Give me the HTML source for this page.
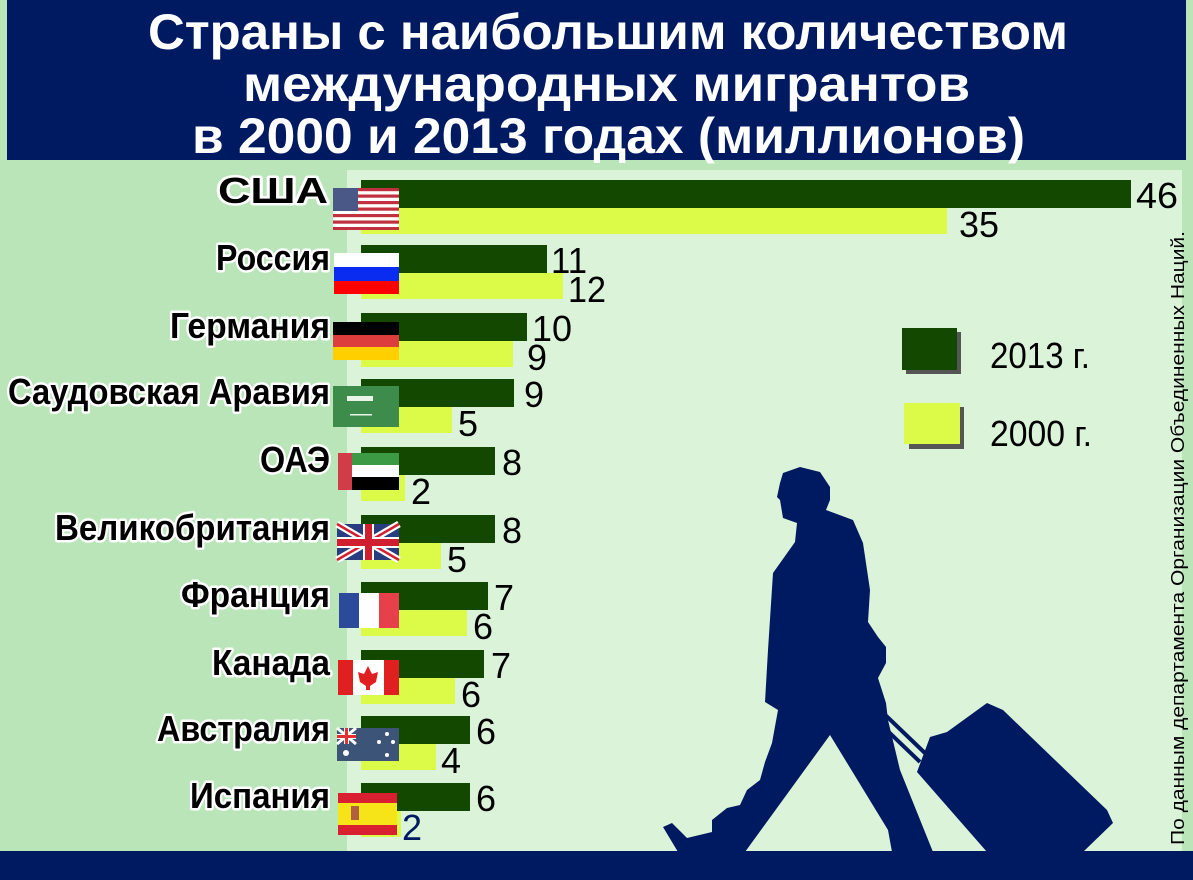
<!DOCTYPE html>
<html><head><meta charset="utf-8"><style>
html,body{margin:0;padding:0;background:#b9e5b9;}
svg{display:block;}
.lab{font-family:"Liberation Sans",sans-serif;font-weight:bold;font-size:36px;fill:#000;stroke:#fff;stroke-width:5px;paint-order:stroke;stroke-linejoin:round;}
.val{font-family:"Liberation Sans",sans-serif;font-size:36px;fill:#000;}
.ttl{font-family:"Liberation Sans",sans-serif;font-weight:bold;font-size:50px;fill:#fff;}
</style></head><body>
<svg width="1193" height="880" viewBox="0 0 1193 880" xmlns="http://www.w3.org/2000/svg">
<rect x="0" y="0" width="1193" height="880" fill="#b9e5b9"/>
<rect x="7" y="0" width="1179" height="160" fill="#001a62"/>
<rect x="347" y="170" width="835" height="681" fill="#dbf4d9"/>
<rect x="0" y="851" width="1193" height="29" fill="#001a62"/>

<text class="ttl" x="148" y="49" textLength="920" lengthAdjust="spacingAndGlyphs">Страны с наибольшим количеством</text>
<text class="ttl" x="243" y="101" textLength="727" lengthAdjust="spacingAndGlyphs">международных  мигрантов</text>
<text class="ttl" x="192" y="153" textLength="833" lengthAdjust="spacingAndGlyphs">в 2000 и 2013 годах (миллионов)</text>

<g fill="#001a62">
<path d="M783,473 L800,467 L820,472 L830,487 L830,500 L826,510 L853,520 L863,543 L870,590 L868,622 L878,637 L886,647 L886,663 L878,678 L886,703 L888,720 L900,770 L933,852 L892,852 L888,830 L830,735 L745,852 L678,852 L663,827 L672,823 L687,838 L712,832 L712,820 L727,808 L740,805 L747,790 L760,780 L765,762 L772,743 L778,710 L765,702 L768,650 L773,573 L795,542 L797,523 L783,518 L780,500 L777,497 L780,483 Z"/>
<path d="M987,703 L1003,710 L1107,810 L1113,823 L1083,852 L987,852 L917,772 L930,737 L947,732 Z"/>
<line x1="878" y1="708" x2="927" y2="755" stroke="#001a62" stroke-width="4"/>
<line x1="872" y1="716" x2="920" y2="762" stroke="#001a62" stroke-width="4"/>
</g>

<g>
<rect x="361" y="180" width="770" height="28" fill="#124800"/><rect x="361" y="208" width="586" height="26" fill="#dcfa48"/>
<rect x="361" y="245" width="186" height="28" fill="#124800"/><rect x="361" y="273" width="202" height="26" fill="#dcfa48"/>
<rect x="361" y="313" width="166" height="28" fill="#124800"/><rect x="361" y="341" width="152" height="26" fill="#dcfa48"/>
<rect x="361" y="379" width="153" height="28" fill="#124800"/><rect x="361" y="407" width="91" height="26" fill="#dcfa48"/>
<rect x="361" y="447" width="134" height="28" fill="#124800"/><rect x="361" y="475" width="44" height="26" fill="#dcfa48"/>
<rect x="361" y="515" width="134" height="28" fill="#124800"/><rect x="361" y="543" width="80" height="26" fill="#dcfa48"/>
<rect x="361" y="582" width="127" height="28" fill="#124800"/><rect x="361" y="610" width="106" height="26" fill="#dcfa48"/>
<rect x="361" y="650" width="123" height="28" fill="#124800"/><rect x="361" y="678" width="94" height="26" fill="#dcfa48"/>
<rect x="361" y="716" width="109" height="28" fill="#124800"/><rect x="361" y="744" width="75" height="26" fill="#dcfa48"/>
<rect x="361" y="783" width="109" height="28" fill="#124800"/><rect x="361" y="811" width="40" height="26" fill="#dcfa48"/>
</g>

<g>
<text class="val" x="1136" y="208" textLength="42" lengthAdjust="spacingAndGlyphs">46</text><text class="val" x="959" y="237" textLength="40" lengthAdjust="spacingAndGlyphs">35</text>
<text class="val" x="551" y="273" textLength="36" lengthAdjust="spacingAndGlyphs">11</text><text class="val" x="568" y="302" textLength="38" lengthAdjust="spacingAndGlyphs">12</text>
<text class="val" x="532" y="341" textLength="40" lengthAdjust="spacingAndGlyphs">10</text><text class="val" x="527" y="370">9</text>
<text class="val" x="524" y="407">9</text><text class="val" x="458" y="436">5</text>
<text class="val" x="502" y="475">8</text><text class="val" x="411" y="504">2</text>
<text class="val" x="502" y="543">8</text><text class="val" x="447" y="572">5</text>
<text class="val" x="494" y="610">7</text><text class="val" x="473" y="639">6</text>
<text class="val" x="491" y="678">7</text><text class="val" x="461" y="707">6</text>
<text class="val" x="476" y="744">6</text><text class="val" x="441" y="773">4</text>
<text class="val" x="476" y="811">6</text><text class="val" x="402" y="840" style="fill:#001a62">2</text>
</g>

<text class="lab" x="218" y="203" textLength="110" lengthAdjust="spacingAndGlyphs">США</text>
<text class="lab" x="216" y="270" textLength="114" lengthAdjust="spacingAndGlyphs">Россия</text>
<text class="lab" x="170" y="338" textLength="160" lengthAdjust="spacingAndGlyphs">Германия</text>
<text class="lab" x="8" y="404" textLength="322" lengthAdjust="spacingAndGlyphs">Саудовская Аравия</text>
<text class="lab" x="260" y="472" textLength="70" lengthAdjust="spacingAndGlyphs">ОАЭ</text>
<text class="lab" x="55" y="540" textLength="275" lengthAdjust="spacingAndGlyphs">Великобритания</text>
<text class="lab" x="181" y="607" textLength="149" lengthAdjust="spacingAndGlyphs">Франция</text>
<text class="lab" x="212" y="675" textLength="118" lengthAdjust="spacingAndGlyphs">Канада</text>
<text class="lab" x="157" y="741" textLength="173" lengthAdjust="spacingAndGlyphs">Австралия</text>
<text class="lab" x="190" y="808" textLength="140" lengthAdjust="spacingAndGlyphs">Испания</text>

<g>
<rect x="333" y="188" width="66" height="42" fill="#fff"/>
<g fill="#c0303e"><rect x="333" y="188" width="66" height="3.2"/><rect x="333" y="194.5" width="66" height="3.2"/><rect x="333" y="201" width="66" height="3.2"/><rect x="333" y="207.5" width="66" height="3.2"/><rect x="333" y="214" width="66" height="3.2"/><rect x="333" y="220.5" width="66" height="3.2"/><rect x="333" y="227" width="66" height="3"/></g>
<rect x="333" y="188" width="25" height="23" fill="#4a5888"/>
<rect x="334" y="253" width="65" height="14" fill="#fff"/><rect x="334" y="267" width="65" height="14" fill="#0a2cf0"/><rect x="334" y="281" width="65" height="13" fill="#f00"/>
<rect x="333" y="322" width="66" height="13" fill="#000"/><rect x="333" y="335" width="66" height="12" fill="#dd3d3d"/><rect x="333" y="347" width="66" height="13" fill="#ffcf00"/>
<rect x="333" y="386" width="66" height="41" fill="#3e8c4c"/>
<rect x="347" y="396" width="26" height="5" fill="#e8f4e8"/><rect x="350" y="414" width="22" height="1.5" fill="#e8f4e8"/>
<rect x="338" y="453" width="14" height="37" fill="#d03c48"/>
<rect x="352" y="453" width="47" height="12" fill="#3d9a44"/><rect x="352" y="465" width="47" height="12" fill="#fff"/><rect x="352" y="477" width="47" height="13" fill="#000"/>
<rect x="337" y="524" width="62" height="36" fill="#283c80"/>
<path d="M337,524 L399,560 M399,524 L337,560" stroke="#fff" stroke-width="7"/>
<path d="M337,524 L399,560 M399,524 L337,560" stroke="#d02030" stroke-width="2.5"/>
<rect x="363" y="524" width="11" height="36" fill="#fff"/><rect x="337" y="537" width="62" height="11" fill="#fff"/>
<rect x="365" y="524" width="7" height="36" fill="#d02030"/><rect x="337" y="539" width="62" height="7" fill="#d02030"/>
<rect x="339" y="593" width="20" height="35" fill="#2c4a9a"/><rect x="359" y="593" width="20" height="35" fill="#fff"/><rect x="379" y="593" width="20" height="35" fill="#e8404a"/>
<rect x="338" y="660" width="61" height="35" fill="#fff"/><rect x="338" y="660" width="15" height="35" fill="#e02020"/><rect x="384" y="660" width="15" height="35" fill="#e02020"/>
<path d="M368,666 L372,674 L378,672 L376,682 L370,686 L370,690 L366,690 L366,686 L360,682 L358,672 L364,674 Z" fill="#e02020"/>
<rect x="337" y="728" width="62" height="33" fill="#3c5478"/>
<path d="M337,728 L356,744 M356,728 L337,744" stroke="#fff" stroke-width="3"/>
<rect x="344" y="728" width="5" height="16" fill="#fff"/><rect x="337" y="734" width="19" height="5" fill="#fff"/>
<rect x="345" y="728" width="3" height="16" fill="#e03030"/><rect x="337" y="735" width="19" height="3" fill="#e03030"/>
<circle cx="387" cy="734" r="2" fill="#fff"/><circle cx="379" cy="742" r="2" fill="#fff"/><circle cx="393" cy="742" r="2" fill="#fff"/><circle cx="387" cy="755" r="2" fill="#fff"/><circle cx="346" cy="753" r="3" fill="#fff"/>
<rect x="338" y="793" width="59" height="42" fill="#d92030"/><rect x="338" y="803" width="59" height="22" fill="#f7e418"/>
<rect x="351" y="806" width="8" height="14" fill="#b06040"/>
</g>

<rect x="906" y="332" width="55" height="42" fill="#555"/>
<rect x="902" y="328" width="55" height="42" fill="#124800"/>
<text class="val" x="990" y="368" textLength="100" lengthAdjust="spacingAndGlyphs">2013 г.</text>
<rect x="909" y="407" width="55" height="42" fill="#555"/>
<rect x="904" y="403" width="56" height="41" fill="#dcfa48"/>
<text class="val" x="990" y="446" textLength="102" lengthAdjust="spacingAndGlyphs">2000 г.</text>

<text transform="translate(1184,845) rotate(-90)" x="0" y="0" font-family="Liberation Sans, sans-serif" font-size="18" fill="#000" textLength="614" lengthAdjust="spacingAndGlyphs">По данным департамента Организации Объединенных Наций.</text>
</svg>
</body></html>
